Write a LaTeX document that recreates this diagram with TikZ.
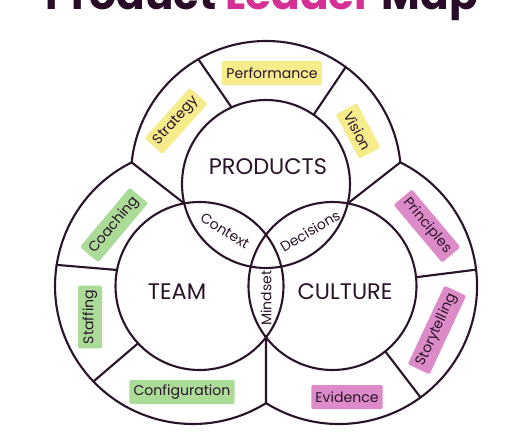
\documentclass[tikz,border=0pt]{standalone}
\usepackage{fontspec}
\setmainfont{Poppins}
\usetikzlibrary{calc}
\definecolor{ink}{RGB}{42,20,42}
\definecolor{titleink}{RGB}{40,12,40}
\definecolor{leadpink}{RGB}{214,48,150}
\definecolor{hlyellow}{RGB}{247,236,140}
\definecolor{hlgreen}{RGB}{170,220,152}
\definecolor{hlpink}{RGB}{220,138,200}
\newcommand{\rcore}{2.1}
\newcommand{\rtop}{3.375}
\newcommand{\rside}{3.45}
\tikzset{
  ring/.style={draw=ink, line width=1.5pt, line join=round},
  core/.style={draw=ink, line width=1.5pt},
  divider/.style={draw=ink, line width=1.5pt, line cap=round},
  area/.style={font=\fontsize{16}{19}\selectfont, text=ink},
  tag/.style={font=\fontsize{10}{12}\selectfont, text=ink, inner xsep=3pt, inner ysep=0pt, minimum height=0.6cm, rounded corners=1pt},
  ytag/.style={tag, fill=hlyellow},
  gtag/.style={tag, fill=hlgreen},
  ptag/.style={tag, fill=hlpink},
  lens/.style={font=\fontsize{10}{12}\selectfont, text=ink, inner sep=1pt},
}
\begin{document}
\begin{tikzpicture}
  \useasboundingbox (0,0) rectangle (13.275,11.05);
  \clip (0,0) rectangle (13.275,11.05);
  \fill[white] (0,0) rectangle (13.275,11.05);

  % centres: inner circles and outer rings
  \coordinate (P) at (6.65,6.45);
  \coordinate (T) at (4.9875,3.9);
  \coordinate (C) at (8.3125,3.9);
  \coordinate (Po) at (6.65,6.65);
  \coordinate (To) at (4.825,3.9);
  \coordinate (Co) at (8.475,3.9);

  % title, cut by the top edge
  \node[font=\fontsize{30}{36}\selectfont\bfseries, text=titleink, anchor=base] (title) at (6.54,10.8)
    {Product \textcolor{leadpink}{Leader} Map};

  % outer boundary
  \draw[ring] ($(Po)+(5.78:\rtop)$)
    arc[start angle=5.78, end angle=174.22, radius=\rtop]
    arc[start angle=116.4, end angle=301.94, radius=\rside]
    arc[start angle=-121.94, end angle=63.6, radius=\rside] -- cycle;

  % the three circles
  \draw[core] (P) circle[radius=\rcore];
  \draw[core] (T) circle[radius=\rcore];
  \draw[core] (C) circle[radius=\rcore];

  % junctions between the rings
  \coordinate (pt-in) at ($(P)+(193.4:\rcore)$);
  \coordinate (pt-out) at ($(Po)+(174.22:\rtop)$);
  \coordinate (pc-in) at ($(P)+(-13.4:\rcore)$);
  \coordinate (pc-out) at ($(Po)+(5.78:\rtop)$);
  \coordinate (tc-in) at ($(T)+(-37.65:\rcore)$);
  \coordinate (tc-out) at ($(To)+(301.94:\rside)$);
  \draw[divider] (pt-in) -- (pt-out);
  \draw[divider] (pc-in) -- (pc-out);
  \draw[divider] (tc-in) -- (tc-out);

  % dividers inside each ring
  \foreach \c/\a/\o/\b/\r in {P/114.2/Po/120.1/\rtop, P/55.5/Po/53.8/\rtop,
      T/169/To/171.2/\rside, T/223/To/223.8/\rside,
      C/6/Co/6.8/\rside, C/-51.1/Co/-53.8/\rside}
    \draw[divider] ($(\c)+(\a:\rcore)$) -- ($(\o)+(\b:\r)$);

  % circle names
  \node[area] (products) at (6.7,6.875) {PRODUCTS};
  \node[area] (team) at (4.425,3.75) {TEAM};
  \node[area] (culture) at (8.625,3.75) {CULTURE};

  % overlaps
  \node[lens, rotate=-32] (context) at (5.625,5.275) {Context};
  \node[lens, rotate=31] (decisions) at (7.75,5.275) {Decisions};
  \node[lens, rotate=90] (mindset) at (6.65,3.6) {Mindset};

  % products ring
  \node[ytag, rotate=48] (strategy) at (4.4,8.025) {Strategy};
  \node[ytag] (performance) at (6.8,9.225) {Performance};
  \node[ytag, rotate=-62] (vision) at (8.95,7.775) {Vision};

  % team ring
  \node[gtag, rotate=50] (coaching) at (2.85,5.425) {Coaching};
  \node[gtag, rotate=90] (staffing) at (2.25,3.125) {Staffing};
  \node[gtag] (configuration) at (4.55,1.25) {Configuration};

  % culture ring
  \node[ptag, rotate=-50] (principles) at (10.675,5.4) {Principles};
  \node[ptag, rotate=65] (storytelling) at (10.925,2.8) {Storytelling};
  \node[ptag] (evidence) at (8.675,1.125) {Evidence};
\end{tikzpicture}
\end{document}
